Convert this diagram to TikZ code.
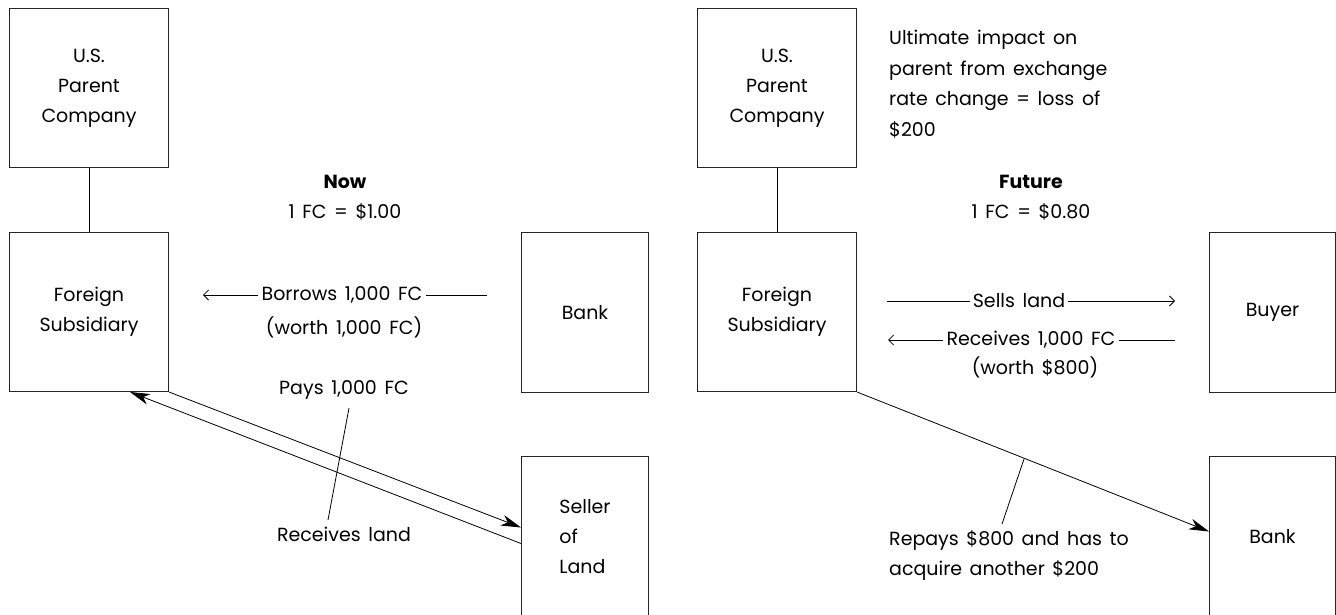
\documentclass[tikz,border=0pt]{standalone}
\usepackage{fontspec}
\setmainfont[WordSpace=1.5,Numbers=Monospaced]{Poppins}
\usetikzlibrary{arrows.meta}
\begin{document}
\begin{tikzpicture}[x=1pt,y=-1pt,
  txt/.style={font=\fontsize{19}{30}\selectfont, inner sep=3pt, align=center, text=black},
  bigbox/.style={draw=black!85, line width=1pt, minimum width=159pt, minimum height=159pt,
                 anchor=north west, txt},
  smallbox/.style={draw=black!85, line width=1pt, minimum width=127pt, minimum height=160pt,
                 anchor=north west, txt},
  link/.style={line width=0.8pt, black},
  flow/.style={link, -{Stealth[length=20pt,width=11pt,inset=6pt]}},
  thin/.style={line width=0.8pt, black},
  barb/.style={thin, -{Straight Barb[length=5pt,width=10pt]}},
  head/.style={txt}
]
\useasboundingbox (0,0) rectangle (1336,614);
\clip (0,0) rectangle (1336,614);

% ---------- Now ----------
\node[bigbox] (psL) at (9,8) {U.S.\\Parent\\Company};
\node[bigbox] (fsL) at (9,232) {Foreign\\Subsidiary};
\node[smallbox] (bankL) at (521,232) {Bank};
\node[smallbox, align=left] (seller) at (521,456) {\fontsize{19}{32}\selectfont Seller\\of\\Land};
\draw[link] (psL.south) -- (fsL.north);

\node[head] (now) at (345,198) {\textbf{Now}\\1 FC = \$1.00};

\node[txt] (borrow) at (342,295) {Borrows 1,000 FC};
\node[txt] (worthL) at (344,327) {(worth 1,000 FC)};
\coordinate (bl) at (203,295);
\coordinate (br) at (487,295);
\draw[barb] (borrow.west) -- (bl);
\draw[thin] (borrow.east) -- (br);

\coordinate (sellIn) at ([yshift=9pt]seller.west);
\coordinate (sellOut) at ([yshift=-7pt]seller.west);
\coordinate (fsLin) at ([xshift=-39pt]fsL.south east);
\draw[flow] (fsL.south east) -- (sellIn);
\draw[flow] (sellOut) -- (fsLin);

\node[txt] (pays) at (344,390) {Pays 1,000 FC};
\node[txt] (recv) at (344,534) {Receives land};
\coordinate (lk1) at (349,408);
\coordinate (lk2) at (328,520);
\draw[thin] (lk1) -- (lk2);

% ---------- Future ----------
\node[bigbox] (psR) at (697,8) {U.S.\\Parent\\Company};
\node[bigbox] (fsR) at (697,232) {Foreign\\Subsidiary};
\node[smallbox, minimum width=126pt] (buyer) at (1209,232) {Buyer};
\node[smallbox, minimum width=126pt] (bankR) at (1209,456) {Bank};
\draw[link] (psR.south) -- (fsR.north);

\node[txt, align=left, anchor=west, font=\fontsize{19}{30.5}\selectfont] (impact) at (886,84)
  {Ultimate impact on\\parent from exchange\\rate change = loss of\\\$200};

\node[head] (future) at (1031,198) {\textbf{Future}\\1 FC = \$0.80};

\node[txt] (sells) at (1019,301) {Sells land};
\coordinate (sl) at (887,301);
\coordinate (sr) at (1175,301);
\draw[thin] (sl) -- (sells.west);
\draw[barb] (sells.east) -- (sr);

\node[txt] (rcv) at (1031,340) {Receives 1,000 FC};
\node[txt] (worthR) at (1035,367) {(worth \$800)};
\coordinate (rl) at (888,340);
\coordinate (rr) at (1175,340);
\draw[barb] (rcv.west) -- (rl);
\draw[thin] (rcv.east) -- (rr);

\coordinate (bankIn) at ([yshift=5pt]bankR.west);
\draw[flow] (fsR.south east) -- (bankIn);

\node[txt, align=left, anchor=west] (repay) at (886,555)
  {Repays \$800 and has to\\acquire another \$200};
\coordinate (rk1) at (1024,459);
\coordinate (rk2) at (1002,524);
\draw[thin] (rk1) -- (rk2);
\end{tikzpicture}
\end{document}
